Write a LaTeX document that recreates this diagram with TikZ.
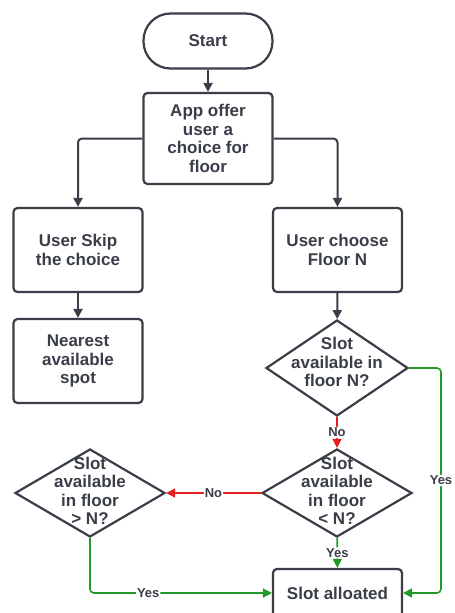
\documentclass[tikz,border=0pt]{standalone}
\usepackage{fontspec}
\setmainfont{Liberation Sans}
\usepackage{tikz}
\usetikzlibrary{arrows.meta,positioning,shapes.geometric}
\definecolor{ink}{HTML}{3A3E48}
\definecolor{yesgreen}{HTML}{1F9A2A}
\definecolor{nored}{HTML}{E61E1E}
\tikzset{
  txt/.style={text=ink,align=center,inner sep=0pt,font=\bfseries\fontsize{17}{18.5}\selectfont},
  proc/.style={txt,draw=ink,line width=2.2pt,rounded corners=4pt,fill=white,minimum width=129pt,minimum height=84pt},
  term/.style={proc,rounded corners=27pt,minimum height=55pt},
  decision/.style={draw=ink,line width=2.2pt,diamond,fill=white,inner sep=0pt,minimum width=150pt,minimum height=88pt},
  arr/.style={-{Triangle[length=9pt,width=9pt]},draw=ink,line width=2pt,rounded corners=4pt},
  arryes/.style={arr,draw=yesgreen,line width=1.6pt},
  arrno/.style={arr,draw=nored,line width=1.6pt},
  lab/.style={text=ink,fill=white,inner sep=1pt,font=\bfseries\fontsize{13}{13}\selectfont},
}
\begin{document}
\begin{tikzpicture}[x=1pt,y=-1pt]
 \clip (0,0) rectangle (455,613);
 \fill[white] (0,0) rectangle (455,613);
 \node[term] (start) at (208,41) {Start};
 \node[proc,minimum height=91pt] (offer) at (208,138.5) {App offer\\user a\\choice for\\floor};
 \node[proc] (skip) at (78,250) {User Skip\\the choice};
 \node[proc] (choose) at (337.5,250) {User choose\\Floor N};
 \node[proc] (near) at (78,361) {Nearest\\available\\spot};
 \node[decision,minimum width=142pt,minimum height=96pt] (dn) at (337,368) {};
 \node[txt] (dntxt) at (337,362) {Slot\\available in\\floor N?};
 \node[decision] (dlow) at (337,493) {};
 \node[txt] (dlowtxt) at (337,491) {Slot\\available\\in floor\\< N?};
 \node[decision] (dhigh) at (90,493) {};
 \node[txt] (dhightxt) at (90,491) {Slot\\available\\in floor\\> N?};
 \node[proc,minimum height=48pt] (alloc) at (337.5,593) {Slot alloated};
 \coordinate (rt) at (441,368);
 % flow
 \draw[arr] (start) -- (offer);
 \draw[arr] (offer.west) -| (skip);
 \draw[arr] (offer.east) -| (choose);
 \draw[arr] (skip) -- (near);
 \draw[arr] (choose) -- (dn);
 \draw[arrno] (dn) -- node[lab]{No} (dlow);
 \draw[arrno] (dlow) -- node[lab]{No} (dhigh);
 \draw[arryes] (dlow) -- node[lab]{Yes} (alloc);
 \draw[arryes] (dhigh.south) |- node[lab,pos=0.66]{Yes} (alloc.west);
 \draw[arryes] (dn.east) -- (rt) |- node[lab,pos=0.25]{Yes} (alloc.east);
\end{tikzpicture}
\end{document}
